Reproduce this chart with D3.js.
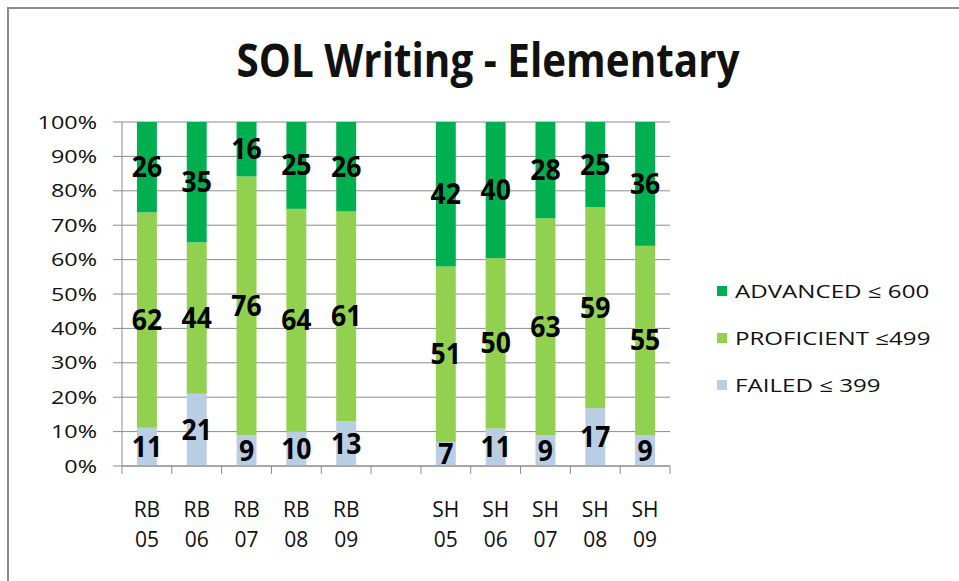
<!DOCTYPE html>
<html>
<head>
<meta charset="utf-8">
<script src="https://cdn.jsdelivr.net/npm/d3@7"></script>
<style>
  body { margin: 0; background: #fff; }
  text { font-family: "Open Sans", sans-serif; fill: #111; }
</style>
</head>
<body>
<svg id="svg" width="959" height="581"></svg>
<script>
// categories, with an empty slot between the two schools
const categories = ["RB 05", "RB 06", "RB 07", "RB 08", "RB 09", "", "SH 05", "SH 06", "SH 07", "SH 08", "SH 09"];
const failed     = [11, 21,  9, 10, 13, null,  7, 11,  9, 17,  9];
const proficient = [62, 44, 76, 64, 61, null, 51, 50, 63, 59, 55];
const advanced   = [26, 35, 16, 25, 26, null, 42, 40, 28, 25, 36];
const seriesNames = ["FAILED \u2264 399", "PROFICIENT  \u2264499", "ADVANCED \u2264 600"];
const seriesColors = ["#B9CDE5", "#92D050", "#00B050"];
const yTicks = [0, 0.1, 0.2, 0.3, 0.4, 0.5, 0.6, 0.7, 0.8, 0.9, 1];

const svg = d3.select("#svg");

// outer frame
svg.append("rect")
  .attr("x", 8).attr("y", 8)
  .attr("width", 1000).attr("height", 1000)
  .attr("fill", "none")
  .attr("stroke", "#8a8a8a")
  .attr("stroke-width", 2);

svg.append("text")
  .attr("text-anchor", "middle")
  .attr("transform", "translate(488,77) scale(0.86,1)")
  .style("font-size", "47px")
  .style("font-weight", "bold")
  .text("SOL Writing - Elementary");

const margin = {top: 122, left: 122, right: 670, bottom: 466};

const x = d3.scaleBand()
  .domain(d3.range(categories.length))
  .range([margin.left, margin.right])
  .paddingInner(0.6)
  .paddingOuter(0.3);

const y = d3.scaleLinear()
  .domain([0, 1])
  .range([margin.bottom, margin.top]);

// gridlines
svg.append("g")
  .selectAll("line")
  .data(yTicks)
  .enter()
  .append("line")
  .attr("x1", margin.left - 9).attr("x2", margin.right)
  .attr("y1", d => y(d)).attr("y2", d => y(d))
  .attr("stroke", "#8c8c8c")
  .attr("stroke-width", 1);

// y axis line
svg.append("line")
  .attr("x1", margin.left).attr("x2", margin.left)
  .attr("y1", margin.top).attr("y2", margin.bottom)
  .attr("stroke", "#8c8c8c");

// y labels
svg.append("g")
  .selectAll("text")
  .data(yTicks)
  .enter()
  .append("text")
  .attr("transform", d => `translate(97,${y(d) + 6.5}) scale(1.3,1)`)
  .attr("text-anchor", "end")
  .style("font-size", "18px")
  .text(d => d3.format(".0%")(d));

// stacked rows
const rows = categories.map((c, i) => ({i, failed: failed[i], proficient: proficient[i], advanced: advanced[i]}))
  .filter(d => d.failed !== null);
const keys = ["failed", "proficient", "advanced"];
const stack = d3.stack().keys(keys).offset(d3.stackOffsetExpand);
const series = stack(rows);

svg.append("g")
  .selectAll("g")
  .data(series)
  .enter()
  .append("g")
  .attr("fill", (d, k) => seriesColors[k])
  .selectAll("rect")
  .data(d => d)
  .enter()
  .append("rect")
  .attr("x", d => x(d.data.i))
  .attr("width", x.bandwidth())
  .attr("y", d => y(d[1]))
  .attr("height", d => y(d[0]) - y(d[1]));

// x axis line + ticks
svg.append("line")
  .attr("x1", margin.left).attr("x2", margin.right)
  .attr("y1", margin.bottom).attr("y2", margin.bottom)
  .attr("stroke", "#8c8c8c");
svg.append("g")
  .selectAll("line")
  .data(d3.range(categories.length + 1))
  .enter()
  .append("line")
  .attr("x1", i => margin.left + i * x.step())
  .attr("x2", i => margin.left + i * x.step())
  .attr("y1", margin.bottom).attr("y2", margin.bottom + 8)
  .attr("stroke", "#8c8c8c");

// data labels
series.forEach((s, k) => {
  svg.append("g")
    .selectAll("text")
    .data(s)
    .enter()
    .append("text")
    .attr("transform", d => `translate(${x(d.data.i) + x.bandwidth() / 2},${(y(d[0]) + y(d[1])) / 2 + 10}) scale(0.95,1)`)
    .attr("text-anchor", "middle")
    .style("font-size", "28px")
    .style("font-weight", "bold")
    .style("fill", "#000")
    .text(d => d.data[keys[k]]);
});

// category labels, two lines
const catG = svg.append("g")
  .selectAll("text")
  .data(categories.map((c, i) => ({c, i})).filter(d => d.c !== ""))
  .enter()
  .append("text")
  .attr("transform", d => `translate(${x(d.i) + x.bandwidth() / 2},0)`)
  .attr("text-anchor", "middle")
  .style("font-size", "21px");
catG.append("tspan").attr("x", 0).attr("y", 517).text(d => d.c.split(" ")[0]);
catG.append("tspan").attr("x", 0).attr("y", 547).text(d => d.c.split(" ")[1]);

// legend, top to bottom: advanced, proficient, failed
const legendOrder = [2, 1, 0];
const legend = svg.append("g")
  .selectAll("g")
  .data(legendOrder)
  .enter()
  .append("g")
  .attr("transform", (k, j) => `translate(717,${291 + j * 47})`);
legend.append("rect")
  .attr("x", 0).attr("y", -5)
  .attr("width", 10).attr("height", 10)
  .attr("fill", k => seriesColors[k]);
legend.append("text")
  .attr("transform", "translate(18,7) scale(1.34,1)")
  .style("font-size", "18px")
  .text(k => seriesNames[k]);
</script>
</body>
</html>
